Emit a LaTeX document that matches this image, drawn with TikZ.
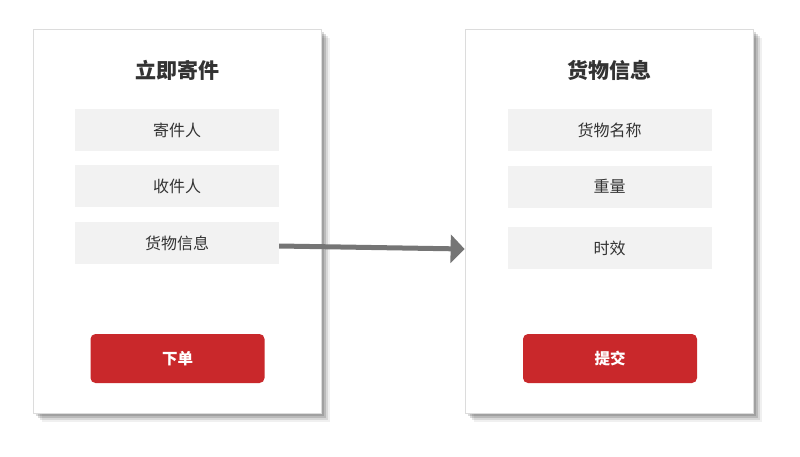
\documentclass[tikz,border=0pt]{standalone}
\usepackage{fontspec}
\setmainfont{Noto Sans CJK SC}
\usetikzlibrary{arrows.meta,shadows}
\definecolor{fieldgray}{HTML}{F2F2F2}
\definecolor{btnred}{HTML}{C9282B}
\definecolor{txt}{HTML}{333333}
\definecolor{arrowgray}{HTML}{757575}
\definecolor{panelborder}{HTML}{DCDCDC}
\tikzset{
  panel/.style={draw=panelborder, line width=0.8pt, fill=white, minimum width=288pt, minimum height=384pt, inner sep=0pt,
    drop shadow={shadow xshift=9pt, shadow yshift=-9pt, fill=black, opacity=0.06},
    drop shadow={shadow xshift=7pt, shadow yshift=-7pt, fill=black, opacity=0.10},
    drop shadow={shadow xshift=5pt, shadow yshift=-5pt, fill=black, opacity=0.14},
    drop shadow={shadow xshift=3pt, shadow yshift=-3pt, fill=black, opacity=0.14}},
  title/.style={font=\fontsize{21}{24}\selectfont\bfseries, text=txt},
  field/.style={fill=fieldgray, minimum width=204pt, minimum height=42pt, inner sep=0pt, font=\fontsize{16}{18}\selectfont, text=txt},
  btn/.style={fill=btnred, rounded corners=5pt, minimum width=174pt, minimum height=49pt, inner sep=0pt, font=\fontsize{15.5}{18}\selectfont\bfseries, text=white},
  link/.style={draw=arrowgray, line width=5pt, -{Triangle[length=14pt,width=28pt]}}
}
\begin{document}
\begin{tikzpicture}[x=1pt,y=-1pt]
\useasboundingbox (0,0) rectangle (800,456);
% left panel
\node[panel] (lp) at (177,221) {};
\node[title] (lt) at (177,70) {立即寄件};
\node[field] (l1) at (177,130) {寄件人};
\node[field] (l2) at (177,186) {收件人};
\node[field] (l3) at (177,243) {货物信息};
\node[btn] (lb) at (177.5,358.5) {下单};
% right panel
\node[panel] (rp) at (609,221) {};
\node[title] (rt) at (609,70) {货物信息};
\node[field] (r1) at (609.5,130) {货物名称};
\node[field] (r2) at (609.5,186.5) {重量};
\node[field] (r3) at (609.5,248) {时效};
\node[btn] (rb) at (610,358.5) {提交};
% connector
\coordinate (tip) at (rp.west |- 0,249);
\draw[link] ([yshift=-3pt]l3.east) -- (tip);
\end{tikzpicture}
\end{document}
